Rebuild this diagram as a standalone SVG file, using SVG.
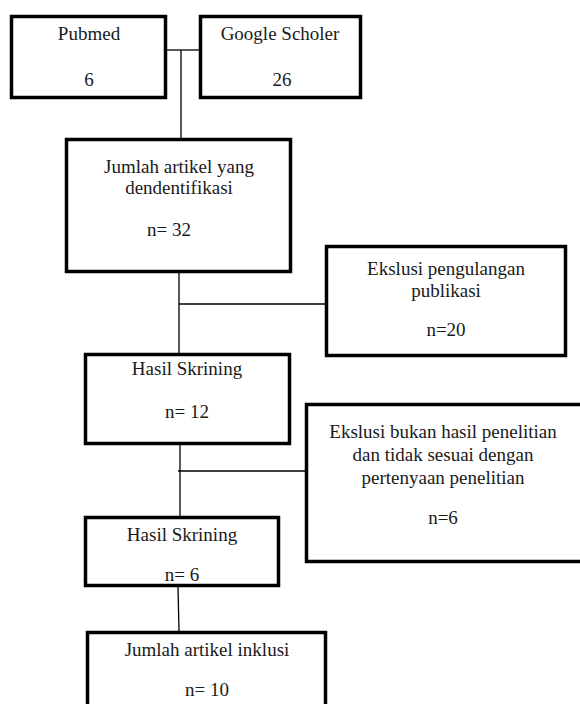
<svg xmlns="http://www.w3.org/2000/svg" width="580" height="704" viewBox="0 0 580 704">
<style>
.box{fill:#fff;stroke:#000;stroke-width:3.5}
.t{font-family:"Liberation Serif","Times New Roman",serif;font-size:19px;fill:#1a1a1a;text-anchor:middle}
.c{stroke:#000;stroke-width:1.3;fill:none}
</style>
<rect width="580" height="704" fill="#fff"/>
<g id="connectors">
<line class="c" x1="167" y1="50" x2="199" y2="50"/>
<line class="c" x1="181" y1="50" x2="181" y2="138"/>
<line class="c" x1="179" y1="273" x2="179" y2="353"/>
<line class="c" x1="179" y1="304" x2="326" y2="304"/>
<line class="c" x1="180" y1="445" x2="180" y2="516"/>
<line class="c" x1="178" y1="471" x2="305" y2="471"/>
<line class="c" x1="178" y1="587" x2="179" y2="631"/>
</g>
<g id="pubmed">
<rect class="box" x="11.5" y="16.5" width="154" height="81"/>
<text class="t" x="89" y="40">Pubmed</text>
<text class="t" x="89" y="86">6</text>
</g>
<g id="google">
<rect class="box" x="200.5" y="16.5" width="160" height="81"/>
<text class="t" x="280" y="40">Google Scholer</text>
<text class="t" x="282" y="86">26</text>
</g>
<g id="identified">
<rect class="box" x="66.5" y="139.5" width="224" height="132"/>
<text class="t" x="179" y="173">Jumlah artikel yang</text>
<text class="t" x="179" y="194">dendentifikasi</text>
<text class="t" x="169" y="236">n= 32</text>
</g>
<g id="excl1">
<rect class="box" x="326.5" y="246.5" width="239" height="109"/>
<text class="t" x="446" y="275">Ekslusi pengulangan</text>
<text class="t" x="446" y="297">publikasi</text>
<text class="t" x="446" y="336">n=20</text>
</g>
<g id="screen1">
<rect class="box" x="85.5" y="354.5" width="204" height="89"/>
<text class="t" x="187" y="375">Hasil Skrining</text>
<text class="t" x="187" y="418">n= 12</text>
</g>
<g id="excl2">
<rect class="box" x="306.5" y="404.5" width="280" height="157"/>
<text class="t" x="443" y="438">Ekslusi bukan hasil penelitian</text>
<text class="t" x="443" y="461">dan tidak sesuai dengan</text>
<text class="t" x="443" y="484">pertenyaan penelitian</text>
<text class="t" x="443" y="524">n=6</text>
</g>
<g id="screen2">
<rect class="box" x="85.5" y="517.5" width="193" height="68"/>
<text class="t" x="182" y="541">Hasil Skrining</text>
<text class="t" x="182" y="581">n= 6</text>
</g>
<g id="included">
<rect class="box" x="87.5" y="632.5" width="238" height="80"/>
<text class="t" x="207" y="656">Jumlah artikel inklusi</text>
<text class="t" x="207" y="696">n= 10</text>
</g>
</svg>
